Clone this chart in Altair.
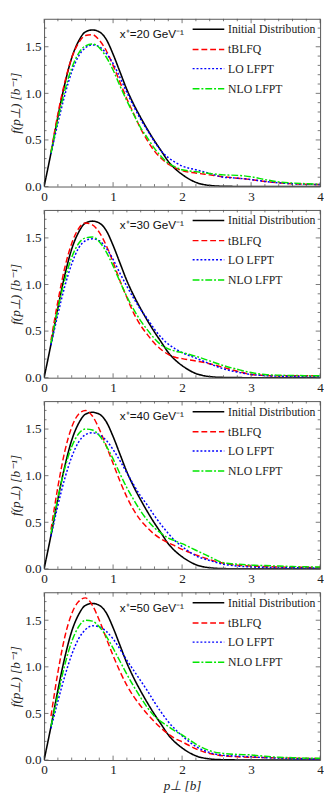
import altair as alt
import pandas as pd

# ---------------- data ----------------
PANELS = [20, 30, 40, 50]
SERIES = ["Initial Distribution", "tBLFQ", "LO LFPT", "NLO LFPT"]
COLORS = ["#000000", "#ff0000", "#0000ff", "#00e600"]
DASHES = [[1, 0], [6, 3], [2, 2], [7, 2, 2, 2]]

P_INIT = [0.0, 0.1, 0.2, 0.3, 0.4, 0.5, 0.6, 0.7, 0.8, 0.9, 1.0, 1.1, 1.2, 1.3, 1.4,
          1.5, 1.6, 1.7, 1.8, 1.9, 2.0, 2.2, 2.4, 2.6, 2.8, 3.0, 3.5, 4.0]
INIT = [0.0, 0.36, 0.75, 1.10, 1.38, 1.56, 1.66, 1.68, 1.66, 1.58, 1.42, 1.23, 1.04, 0.88, 0.74,
        0.61, 0.49, 0.38, 0.27, 0.19, 0.13, 0.045, 0.012, 0.003, 0.001, 0.0, 0.0, 0.0]

P_GRID = [0.1, 0.2, 0.3, 0.4, 0.5, 0.6, 0.7, 0.8, 0.9, 1.0, 1.1, 1.2, 1.3, 1.4, 1.5,
          1.6, 1.7, 1.8, 1.9, 2.0, 2.2, 2.4, 2.6, 2.8, 3.0, 3.2, 3.4, 3.6, 3.8, 4.0]

TBLFQ_20 = [0.37, 0.78, 1.12, 1.38, 1.54, 1.62, 1.63, 1.57, 1.46, 1.30, 1.12, 0.94, 0.78, 0.62, 0.49,
            0.38, 0.30, 0.24, 0.20, 0.17, 0.145, 0.125, 0.105, 0.09, 0.075, 0.055, 0.04, 0.03, 0.025, 0.022]
LO_20 = [0.35, 0.68, 0.98, 1.23, 1.40, 1.49, 1.52, 1.50, 1.43, 1.32, 1.17, 1.01, 0.86, 0.72, 0.60,
         0.48, 0.38, 0.31, 0.26, 0.22, 0.18, 0.14, 0.10, 0.09, 0.075, 0.055, 0.04, 0.03, 0.025, 0.022]
NLO_20 = [0.36, 0.72, 1.03, 1.27, 1.43, 1.51, 1.53, 1.49, 1.39, 1.25, 1.08, 0.92, 0.77, 0.63, 0.52,
          0.41, 0.32, 0.25, 0.21, 0.18, 0.16, 0.14, 0.125, 0.12, 0.105, 0.075, 0.05, 0.038, 0.03, 0.025]

TBLFQ_30 = [0.40, 0.82, 1.18, 1.44, 1.60, 1.66, 1.64, 1.56, 1.42, 1.24, 1.04, 0.86, 0.69, 0.56, 0.46,
            0.37, 0.30, 0.25, 0.22, 0.205, 0.18, 0.15, 0.11, 0.07, 0.035, 0.025, 0.02, 0.02, 0.02, 0.02]
LO_30 = [0.35, 0.68, 0.98, 1.22, 1.39, 1.47, 1.49, 1.47, 1.39, 1.27, 1.12, 0.98, 0.85, 0.73, 0.63,
         0.52, 0.43, 0.36, 0.31, 0.27, 0.21, 0.15, 0.095, 0.06, 0.035, 0.022, 0.016, 0.014, 0.012, 0.012]
NLO_30 = [0.37, 0.74, 1.05, 1.29, 1.44, 1.50, 1.51, 1.46, 1.35, 1.20, 1.03, 0.87, 0.73, 0.61, 0.51,
          0.42, 0.35, 0.31, 0.285, 0.27, 0.23, 0.18, 0.13, 0.09, 0.055, 0.035, 0.027, 0.024, 0.022, 0.022]

TBLFQ_40 = [0.42, 0.88, 1.26, 1.52, 1.66, 1.70, 1.64, 1.50, 1.32, 1.13, 0.94, 0.77, 0.63, 0.52, 0.44,
            0.37, 0.32, 0.28, 0.245, 0.21, 0.15, 0.10, 0.06, 0.04, 0.03, 0.025, 0.02, 0.018, 0.016, 0.015]
LO_40 = [0.35, 0.68, 0.97, 1.20, 1.36, 1.44, 1.46, 1.44, 1.38, 1.28, 1.16, 1.03, 0.90, 0.78, 0.68,
         0.57, 0.47, 0.38, 0.30, 0.24, 0.14, 0.09, 0.05, 0.03, 0.02, 0.016, 0.014, 0.012, 0.01, 0.01]
NLO_40 = [0.38, 0.76, 1.08, 1.31, 1.45, 1.50, 1.49, 1.43, 1.32, 1.18, 1.02, 0.87, 0.74, 0.62, 0.52,
          0.44, 0.38, 0.33, 0.30, 0.27, 0.20, 0.13, 0.065, 0.05, 0.04, 0.035, 0.03, 0.025, 0.022, 0.02]

TBLFQ_50 = [0.47, 0.94, 1.32, 1.57, 1.70, 1.74, 1.66, 1.50, 1.31, 1.12, 0.95, 0.80, 0.68, 0.58, 0.49,
            0.41, 0.34, 0.28, 0.23, 0.195, 0.12, 0.07, 0.045, 0.035, 0.03, 0.027, 0.023, 0.02, 0.017, 0.015]
LO_50 = [0.34, 0.63, 0.90, 1.13, 1.30, 1.40, 1.44, 1.43, 1.38, 1.30, 1.19, 1.07, 0.96, 0.85, 0.74,
         0.62, 0.51, 0.41, 0.33, 0.26, 0.145, 0.08, 0.05, 0.042, 0.035, 0.025, 0.02, 0.015, 0.012, 0.01]
NLO_50 = [0.36, 0.70, 1.02, 1.27, 1.43, 1.50, 1.49, 1.43, 1.33, 1.20, 1.06, 0.92, 0.79, 0.67, 0.56,
          0.47, 0.41, 0.36, 0.31, 0.27, 0.17, 0.10, 0.07, 0.06, 0.055, 0.04, 0.03, 0.025, 0.02, 0.02]

TBLFQ = {20: TBLFQ_20, 30: TBLFQ_30, 40: TBLFQ_40, 50: TBLFQ_50}
LO = {20: LO_20, 30: LO_30, 40: LO_40, 50: LO_50}
NLO = {20: NLO_20, 30: NLO_30, 40: NLO_40, 50: NLO_50}

X_MAJOR = [0, 1, 2, 3, 4]
X_MINOR = [0.2, 0.4, 0.6, 0.8, 1.2, 1.4, 1.6, 1.8, 2.2, 2.4, 2.6, 2.8, 3.2, 3.4, 3.6, 3.8]
Y_MAJOR = [0.0, 0.5, 1.0, 1.5]
Y_MINOR = [0.1, 0.2, 0.3, 0.4, 0.6, 0.7, 0.8, 0.9, 1.1, 1.2, 1.3, 1.4, 1.6, 1.7]

# ---------------- layout / style ----------------
W, H = 283, 172
SX = W / 288.0
SY = H / 175.0
FRAME = "#555555"
SERIF = "'Liberation Serif', 'Times New Roman', serif"
SANS = "'Liberation Sans', Arial, sans-serif"
TXT = "#222222"

xscale = alt.Scale(domain=[0, 4], nice=False, zero=False)
yscale = alt.Scale(domain=[0, 1.8], nice=False, zero=False)
one = pd.DataFrame({"k": [0]})


def x_enc(last):
    ax = alt.Axis(values=X_MAJOR, format="d", ticks=False, domain=False, grid=False,
                  labelFont=SERIF, labelFontSize=13.5, labelColor=TXT, labelPadding=3,
                  labelFlush=False,
                  title="p\u22a5  [b]" if last else None,
                  titleFont=SERIF, titleFontSize=13.5, titleFontStyle="italic",
                  titleFontWeight="normal", titleColor=TXT, titlePadding=3)
    return alt.X("p:Q", scale=xscale, axis=ax)


def y_enc():
    ax = alt.Axis(values=Y_MAJOR, format=".1f", ticks=False, domain=False, grid=False,
                  labelFont=SERIF, labelFontSize=13.5, labelColor=TXT, labelPadding=3,
                  labelFlush=False,
                  title="f(p\u22a5)  [b\u207b\u00b9]",
                  titleFont=SERIF, titleFontSize=13.5, titleFontStyle="italic",
                  titleFontWeight="normal", titleColor=TXT, titlePadding=2)
    return alt.Y("f:Q", scale=yscale, axis=ax)


def panel(xp, last):
    rows = []
    for p, f in zip(P_INIT, INIT):
        rows.append({"p": p, "f": f, "series": SERIES[0]})
    for name, vals in [(SERIES[1], TBLFQ[xp]), (SERIES[2], LO[xp]), (SERIES[3], NLO[xp])]:
        for p, f in zip(P_GRID, vals):
            rows.append({"p": p, "f": f, "series": name})
    df = pd.DataFrame(rows)

    layers = []
    for i, name in enumerate(SERIES):
        sub = df[df.series == name]
        layers.append(
            alt.Chart(sub).mark_line(color=COLORS[i], strokeDash=DASHES[i],
                                     strokeWidth=1.6 if i == 0 else 1.5,
                                     interpolate="monotone", clip=True)
            .encode(x=x_enc(last), y=y_enc())
        )

    # frame ticks (inward)
    xmaj = pd.DataFrame({"p": X_MAJOR})
    xmin = pd.DataFrame({"p": X_MINOR})
    ymaj = pd.DataFrame({"f": Y_MAJOR})
    ymin = pd.DataFrame({"f": Y_MINOR})
    for d, ln in [(xmaj, 4.5), (xmin, 2.5)]:
        layers.append(alt.Chart(d).mark_rule(color=FRAME, strokeWidth=0.8)
                      .encode(x=x_enc(last), y=alt.value(H), y2=alt.value(H - ln)))
        layers.append(alt.Chart(d).mark_rule(color=FRAME, strokeWidth=0.8)
                      .encode(x=x_enc(last), y=alt.value(0), y2=alt.value(ln)))
    for d, ln in [(ymaj, 4.5), (ymin, 2.5)]:
        layers.append(alt.Chart(d).mark_rule(color=FRAME, strokeWidth=0.8)
                      .encode(y=y_enc(), x=alt.value(0), x2=alt.value(ln)))
        layers.append(alt.Chart(d).mark_rule(color=FRAME, strokeWidth=0.8)
                      .encode(y=y_enc(), x=alt.value(W), x2=alt.value(W - ln)))

    # annotation
    layers.append(alt.Chart(one).mark_text(align="left", baseline="middle",
                                           font=SANS, fontSize=12, color="#111")
                  .encode(x=alt.value(79 * SX), y=alt.value(16 * SY),
                          text=alt.value(f"x\u207a={xp} GeV\u207b\u00b9")))

    # legend (drawn inside the frame, top right)
    lx0, lx1, ltx = (197 - 42) * SX, (230 - 42) * SX, (234 - 42) * SX
    rows_y = [11, 32, 52, 73]
    for i, name in enumerate(SERIES):
        yy = rows_y[i] * SY
        layers.append(alt.Chart(one).mark_rule(color=COLORS[i], strokeDash=DASHES[i],
                                               strokeWidth=1.6 if i == 0 else 1.5)
                      .encode(x=alt.value(lx0), x2=alt.value(lx1), y=alt.value(yy)))
        layers.append(alt.Chart(one).mark_text(align="left", baseline="middle",
                                               font=SERIF, fontSize=12, color=TXT)
                      .encode(x=alt.value(ltx), y=alt.value(yy), text=alt.value(name)))

    return alt.layer(*layers).properties(width=W, height=H)


chart = alt.vconcat(*[panel(xp, xp == PANELS[-1]) for xp in PANELS], spacing=6).properties(
    padding={"left": 0, "top": 0, "right": 0, "bottom": 0}
).configure_view(stroke=FRAME, strokeWidth=1)

chart.save("out.html", embed_options={"renderer": "svg", "actions": False})
